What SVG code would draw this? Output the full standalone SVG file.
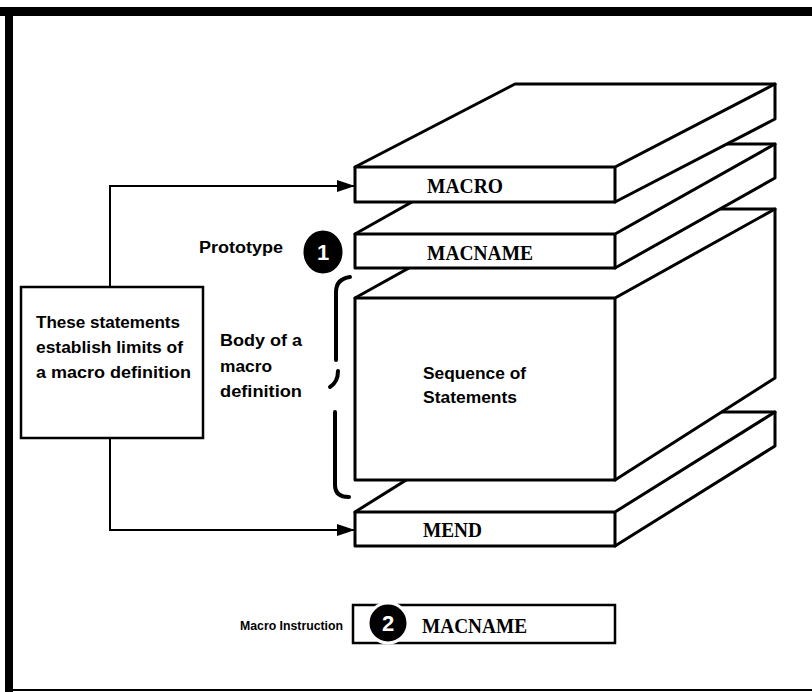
<svg xmlns="http://www.w3.org/2000/svg" width="812" height="692" viewBox="0 0 812 692">
  <defs>
    <style>
      .slab { fill: #fff; stroke: #000; stroke-width: 3; stroke-linejoin: round; }
      .edge { fill: none; stroke: #000; stroke-width: 3; stroke-linecap: round; }
      .mono { font-family: "Liberation Serif", "Times New Roman", serif; font-weight: bold; font-size: 20px; fill: #000; }
      .sans { font-family: "Liberation Sans", Arial, sans-serif; font-weight: bold; font-size: 16px; fill: #000; }
      .small { font-size: 13px; }
      .conn { fill: none; stroke: #000; stroke-width: 2; }
      .box { fill: #fff; stroke: #000; stroke-width: 2.5; }
      .badge { fill: #000; stroke: #fff; stroke-width: 3; }
      .num { font-family: "Liberation Sans", Arial, sans-serif; font-weight: bold; font-size: 22px; fill: #fff; text-anchor: middle; }
    </style>
    <marker id="arrow" viewBox="0 0 18 12" refX="18" refY="6" markerWidth="18" markerHeight="12" markerUnits="userSpaceOnUse" orient="auto">
      <path d="M0,0 L18,6 L0,12 Z" fill="#000"/>
    </marker>
  </defs>

  <rect x="0" y="0" width="812" height="692" fill="#fff"/>

  <!-- frame -->
  <g id="frame">
    <rect x="0" y="7" width="812" height="9" fill="#000"/>
    <rect x="5" y="7" width="8" height="685" fill="#000"/>
    <rect x="5" y="689" width="807" height="2" fill="#000"/>
  </g>

  <!-- connectors -->
  <g id="connectors">
    <polyline class="conn" points="110,287 110,186 355,186" marker-end="url(#arrow)"/>
    <polyline class="conn" points="110,438 110,530 355,530" marker-end="url(#arrow)"/>
  </g>

  <!-- MEND slab -->
  <g id="mend">
    <polygon class="slab" points="355,512 515,412 775,412 775,446 615,546 355,546"/>
    <path class="edge" d="M355,512 L615,512 L775,412 M615,512 L615,546"/>
    <text class="mono" x="423" y="537" textLength="59" lengthAdjust="spacingAndGlyphs">MEND</text>
  </g>

  <!-- Sequence of statements block -->
  <g id="sequence">
    <polygon class="slab" points="355,298 515,209 775,209 775,378 615,480 355,480"/>
    <path class="edge" d="M355,298 L615,298 L775,209 M615,298 L615,480"/>
    <text class="sans" x="423" y="379" textLength="103" lengthAdjust="spacingAndGlyphs">Sequence of</text>
    <text class="sans" x="423" y="403" textLength="94" lengthAdjust="spacingAndGlyphs">Statements</text>
  </g>

  <!-- MACNAME (prototype) slab -->
  <g id="macname">
    <polygon class="slab" points="355,234 515,144 775,144 775,178 615,268 355,268"/>
    <path class="edge" d="M355,234 L615,234 L775,144 M615,234 L615,268"/>
    <text class="mono" x="427" y="260" textLength="106" lengthAdjust="spacingAndGlyphs">MACNAME</text>
  </g>

  <!-- MACRO slab -->
  <g id="macro">
    <polygon class="slab" points="355,167 515,84 775,84 775,119 615,202 355,202"/>
    <path class="edge" d="M355,167 L615,167 L775,84 M615,167 L615,202"/>
    <text class="mono" x="427" y="193" textLength="76" lengthAdjust="spacingAndGlyphs">MACRO</text>
  </g>

  <!-- left explanatory box -->
  <g id="limits">
    <rect class="box" x="21" y="287" width="182" height="151"/>
    <text class="sans" x="36" y="328" textLength="144" lengthAdjust="spacingAndGlyphs">These statements</text>
    <text class="sans" x="36" y="353" textLength="147" lengthAdjust="spacingAndGlyphs">establish limits of</text>
    <text class="sans" x="36" y="378" textLength="155" lengthAdjust="spacingAndGlyphs">a macro definition</text>
  </g>

  <!-- body label and brace -->
  <g id="body">
    <text class="sans" x="220" y="346" textLength="82" lengthAdjust="spacingAndGlyphs">Body of a</text>
    <text class="sans" x="220" y="372" textLength="52" lengthAdjust="spacingAndGlyphs">macro</text>
    <text class="sans" x="220" y="397" textLength="82" lengthAdjust="spacingAndGlyphs">definition</text>
    <path d="M350,277 Q336,279 336,292 L336,360" fill="none" stroke="#000" stroke-width="4" stroke-linecap="round"/>
    <path d="M338,371 Q338,382 330,387" fill="none" stroke="#000" stroke-width="4" stroke-linecap="round"/>
    <path d="M335,412 L335,485 Q335,497 349,497" fill="none" stroke="#000" stroke-width="4" stroke-linecap="round"/>
  </g>

  <!-- prototype label -->
  <g id="prototype">
    <text class="sans" x="199" y="253" textLength="84" lengthAdjust="spacingAndGlyphs">Prototype</text>
    <ellipse class="badge" cx="323" cy="252" rx="21" ry="23"/>
    <text class="num" x="323" y="260">1</text>
  </g>

  <!-- macro instruction -->
  <g id="instruction">
    <text class="sans small" x="240" y="630" textLength="103" lengthAdjust="spacingAndGlyphs">Macro Instruction</text>
    <rect class="box" x="353" y="605" width="262" height="38"/>
    <circle class="badge" cx="388" cy="623" r="20"/>
    <text class="num" x="388" y="631">2</text>
    <text class="mono" x="422" y="633" textLength="105" lengthAdjust="spacingAndGlyphs">MACNAME</text>
  </g>
</svg>
